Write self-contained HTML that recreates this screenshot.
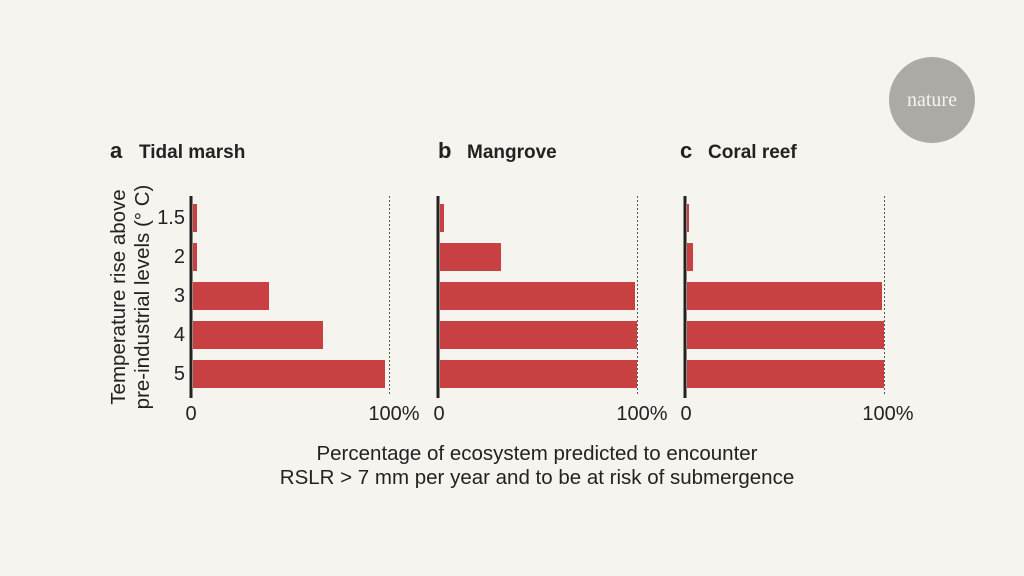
<!DOCTYPE html>
<html><head><style>
body{margin:0;background:#f5f4ee;}
svg{display:block}
text{font-family:"Liberation Sans",sans-serif;fill:#222}
</style></head><body>
<svg width="1024" height="576" viewBox="0 0 1024 576">
<rect width="1024" height="576" fill="#f5f4ee"/>
<circle cx="932" cy="100" r="43" fill="#abaaa5"/>
<text x="932" y="106" text-anchor="middle" style="font-family:'Liberation Serif',serif;font-size:20px;fill:#f5f4ee">nature</text>
<g font-weight="bold" font-size="19">
<text x="110" y="158" font-size="22">a</text><text x="139" y="158">Tidal marsh</text>
<text x="438" y="158" font-size="22">b</text><text x="467" y="158">Mangrove</text>
<text x="680" y="158" font-size="22">c</text><text x="708" y="158">Coral reef</text>
</g>
<g font-size="20" text-anchor="end">
<text x="185" y="224">1.5</text><text x="185" y="263">2</text><text x="185" y="302">3</text><text x="185" y="341">4</text><text x="185" y="380">5</text>
</g>
<text transform="translate(125,297) rotate(-90)" text-anchor="middle" font-size="20.5">Temperature rise above</text>
<text transform="translate(149,297) rotate(-90)" text-anchor="middle" font-size="20.5">pre-industrial levels (° C)</text>
<g fill="#c84042">
<rect x="193" y="204" width="4" height="28"/><rect x="193" y="243" width="4" height="28"/><rect x="193" y="282" width="76" height="28"/><rect x="193" y="321" width="130" height="28"/><rect x="193" y="360" width="192" height="28"/>
<rect x="440" y="204" width="4" height="28"/><rect x="440" y="243" width="61" height="28"/><rect x="440" y="282" width="195" height="28"/><rect x="440" y="321" width="197" height="28"/><rect x="440" y="360" width="197" height="28"/>
<rect x="687" y="204" width="2" height="28"/><rect x="687" y="243" width="6" height="28"/><rect x="687" y="282" width="195" height="28"/><rect x="687" y="321" width="197" height="28"/><rect x="687" y="360" width="197" height="28"/>
</g>
<g stroke="#555" stroke-width="1" stroke-dasharray="2,2">
<line x1="389.5" y1="196" x2="389.5" y2="396"/><line x1="637.5" y1="196" x2="637.5" y2="396"/><line x1="884.5" y1="196" x2="884.5" y2="396"/>
</g>
<g stroke="#222" stroke-width="3">
<line x1="191" y1="196" x2="191" y2="398"/><line x1="438" y1="196" x2="438" y2="398"/><line x1="685" y1="196" x2="685" y2="398"/>
</g>
<g font-size="20" text-anchor="middle">
<text x="191" y="420">0</text><text x="394" y="420">100%</text>
<text x="439" y="420">0</text><text x="642" y="420">100%</text>
<text x="686" y="420">0</text><text x="888" y="420">100%</text>
</g>
<g font-size="20.5" text-anchor="middle">
<text x="537" y="460">Percentage of ecosystem predicted to encounter</text>
<text x="537" y="484">RSLR &gt; 7 mm per year and to be at risk of submergence</text>
</g>
</svg>
</body></html>
